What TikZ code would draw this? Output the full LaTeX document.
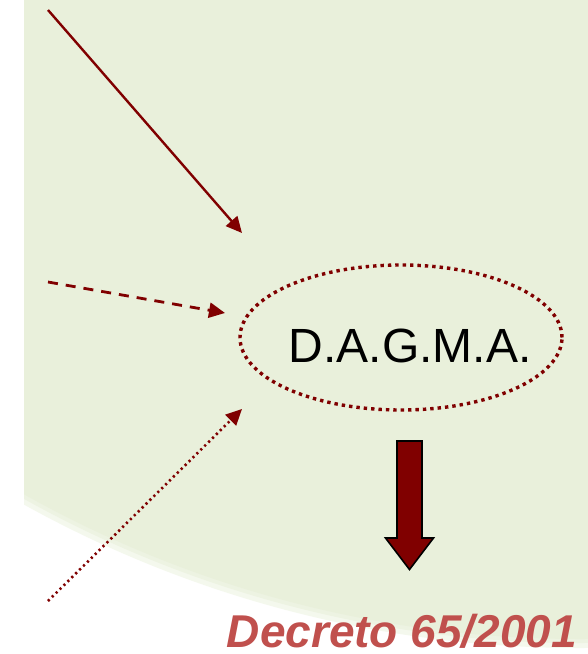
\documentclass[tikz,border=0pt]{standalone}
\usepackage{fontspec}
\setmainfont{Liberation Sans}
\usetikzlibrary{arrows.meta,shapes.geometric}
\definecolor{bgreen}{HTML}{E9F0DB}
\definecolor{dred}{HTML}{800000}
\definecolor{tred}{HTML}{C0504D}
\tikzset{
  conn/.style={draw=dred, line width=2.4pt, -{Triangle[length=16pt,width=15pt]}},
  ovalbox/.style={ellipse, draw=dred, line width=3.4pt, dash pattern=on 3.4pt off 4pt,
     minimum width=322pt, minimum height=145pt, inner sep=0pt},
  label1/.style={font=\fontsize{48}{48}\selectfont, text=black, inner sep=0pt, anchor=base},
  label2/.style={font=\fontsize{46}{46}\selectfont\bfseries\itshape, text=tred, inner sep=0pt, anchor=base},
  bigarrow/.style={fill=dred, draw=black, line width=1.6pt, line join=miter}
}
\begin{document}
\begin{tikzpicture}[x=1pt,y=-1pt]
\useasboundingbox (0,0) rectangle (588,654);
\fill[white] (0,0) rectangle (588,654);
\begin{scope}
  \clip (24,0) rectangle (588,654);
  \fill[bgreen!50!white] (580,-500) circle [radius=1148pt];
  \fill[bgreen!80!white] (580,-500) circle [radius=1143pt];
  \fill[bgreen] (580,-500) circle [radius=1139pt];
\end{scope}

\node[ovalbox] (oval) at (401,337.5) {};
\node[label1] (dagma) at (410,362) {D.A.G.M.A.};
\node[label2] (decreto) at (402,647) {Decreto 65/2001};

\coordinate (s1) at (48,10);   \coordinate (t1) at (242,233);
\coordinate (s2) at (48,282);  \coordinate (t2) at (225,313);
\coordinate (s3) at (48,601);  \coordinate (t3) at (242,409);

\draw[conn] (s1) -- (t1);
\draw[conn, dash pattern=on 10pt off 8pt, line width=2.8pt] (s2) -- (t2);
\draw[conn, dash pattern=on 2.2pt off 3.3pt, line width=2.6pt] (s3) -- (t3);

\draw[bigarrow] (397,441) -- (422,441) -- (422,538) -- (433.5,538) -- (409.5,569.5)
  -- (385.5,538) -- (397,538) -- cycle;
\end{tikzpicture}
\end{document}
